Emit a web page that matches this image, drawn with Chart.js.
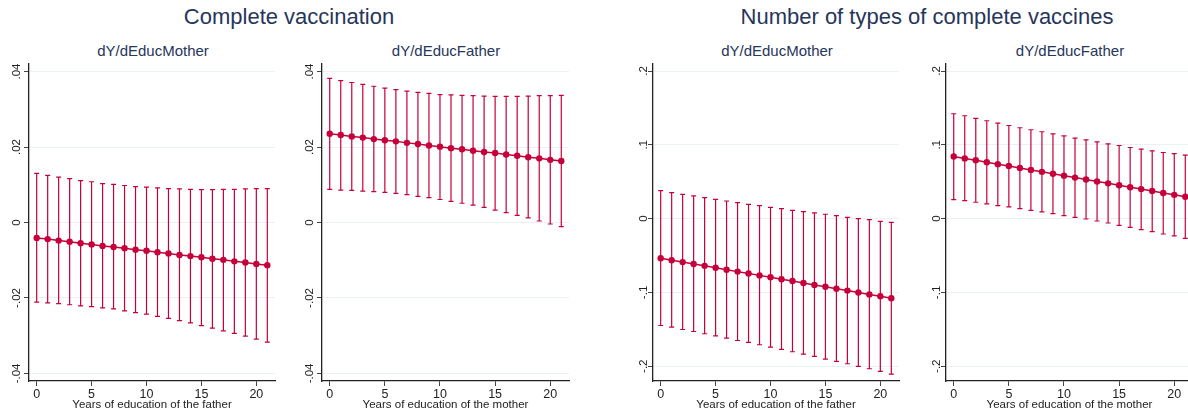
<!DOCTYPE html>
<html>
<head>
<meta charset="utf-8">
<script src="https://cdn.jsdelivr.net/npm/chart.js@4.4.1/dist/chart.umd.min.js"></script>
<style>
  html, body { margin: 0; padding: 0; background: #fff; }
  body { width: 1188px; height: 418px; position: relative; overflow: hidden; font-family: "Liberation Sans", Arial, sans-serif; }
  canvas { position: absolute; top: 0; }
  .title { position: absolute; top: 4px; font-size: 22px; color: #26365a; white-space: nowrap; transform: translateX(-50%); }
  .sub { position: absolute; top: 42px; font-size: 15px; color: #26365a; white-space: nowrap; transform: translateX(-50%); }
</style>
</head>
<body>
<div class="title" style="left:289px">Complete vaccination</div>
<div class="title" style="left:927px">Number of types of complete vaccines</div>
<div class="sub" style="left:153px">dY/dEducMother</div>
<div class="sub" style="left:446px">dY/dEducFather</div>
<div class="sub" style="left:777px">dY/dEducMother</div>
<div class="sub" style="left:1070px">dY/dEducFather</div>
<canvas id="c1" width="279" height="418" style="left:0px"></canvas>
<canvas id="c2" width="280" height="418" style="left:293px"></canvas>
<canvas id="c3" width="279" height="418" style="left:624px"></canvas>
<canvas id="c4" width="280" height="418" style="left:917px"></canvas>
<script>
// years of education (x)
const years = [0, 1, 2, 3, 4, 5, 6, 7, 8, 9, 10, 11, 12, 13, 14, 15, 16, 17, 18, 19, 20, 21];
const xTicks = [0, 5, 10, 15, 20];
const yTicksComplete = [-0.04, -0.02, 0, 0.02, 0.04];
const yTicksTypes = [-0.2, -0.1, 0, 0.1, 0.2];

// Complete vaccination, dY/dEducMother
const cvMotherEst = [-0.0041, -0.0044, -0.0048, -0.0051, -0.0055, -0.0058, -0.0062, -0.0065, -0.0068, -0.0072, -0.0075,
  -0.0079, -0.0082, -0.0086, -0.0089, -0.0092, -0.0096, -0.0099, -0.0103, -0.0106, -0.0110, -0.0113];
const cvMotherHi = [0.0130, 0.0125, 0.0120, 0.0116, 0.0111, 0.0108, 0.0103, 0.0101, 0.0098, 0.0095, 0.0094,
  0.0092, 0.0090, 0.0089, 0.0088, 0.0087, 0.0087, 0.0088, 0.0088, 0.0089, 0.0090, 0.0090];
const cvMotherLo = [-0.0211, -0.0213, -0.0215, -0.0218, -0.0221, -0.0223, -0.0226, -0.0229, -0.0234, -0.0239, -0.0243,
  -0.0249, -0.0254, -0.0260, -0.0266, -0.0273, -0.0280, -0.0287, -0.0294, -0.0301, -0.0309, -0.0317];

// Complete vaccination, dY/dEducFather
const cvFatherEst = [0.0235, 0.0232, 0.0228, 0.0225, 0.0221, 0.0218, 0.0215, 0.0211, 0.0208, 0.0204, 0.0201,
  0.0197, 0.0194, 0.0190, 0.0187, 0.0184, 0.0180, 0.0177, 0.0173, 0.0170, 0.0166, 0.0163];
const cvFatherHi = [0.0382, 0.0376, 0.0371, 0.0366, 0.0361, 0.0356, 0.0352, 0.0348, 0.0345, 0.0342, 0.0339,
  0.0338, 0.0337, 0.0336, 0.0335, 0.0334, 0.0334, 0.0334, 0.0335, 0.0336, 0.0336, 0.0337];
const cvFatherLo = [0.0088, 0.0086, 0.0085, 0.0083, 0.0082, 0.0080, 0.0077, 0.0074, 0.0069, 0.0066, 0.0061,
  0.0056, 0.0051, 0.0046, 0.0040, 0.0033, 0.0026, 0.0019, 0.0012, 0.0004, -0.0004, -0.0011];

// Number of types of complete vaccines, dY/dEducMother
const ntMotherEst = [-0.0537, -0.0563, -0.0589, -0.0615, -0.0640, -0.0666, -0.0692, -0.0718, -0.0743, -0.0769, -0.0795,
  -0.0821, -0.0846, -0.0872, -0.0898, -0.0924, -0.0949, -0.0975, -0.1001, -0.1027, -0.1052, -0.1078];
const ntMotherHi = [0.0379, 0.0352, 0.0329, 0.0307, 0.0284, 0.0262, 0.0239, 0.0216, 0.0194, 0.0176, 0.0153,
  0.0135, 0.0113, 0.0095, 0.0077, 0.0059, 0.0041, 0.0018, 0.0000, -0.0014, -0.0036, -0.0050];
const ntMotherLo = [-0.1448, -0.1470, -0.1502, -0.1529, -0.1560, -0.1588, -0.1619, -0.1651, -0.1678, -0.1709, -0.1741,
  -0.1772, -0.1804, -0.1836, -0.1867, -0.1903, -0.1935, -0.1966, -0.2002, -0.2034, -0.2070, -0.2106];

// Number of types of complete vaccines, dY/dEducFather
const ntFatherEst = [0.0842, 0.0816, 0.0790, 0.0764, 0.0738, 0.0712, 0.0686, 0.0660, 0.0634, 0.0608, 0.0582,
  0.0556, 0.0530, 0.0504, 0.0478, 0.0452, 0.0426, 0.0400, 0.0374, 0.0348, 0.0322, 0.0296];
const ntFatherHi = [0.1421, 0.1394, 0.1358, 0.1326, 0.1294, 0.1262, 0.1231, 0.1204, 0.1177, 0.1149, 0.1122,
  0.1091, 0.1068, 0.1041, 0.1014, 0.0991, 0.0964, 0.0941, 0.0919, 0.0896, 0.0882, 0.0860];
const ntFatherLo = [0.0258, 0.0244, 0.0222, 0.0199, 0.0176, 0.0158, 0.0136, 0.0113, 0.0091, 0.0068, 0.0041,
  0.0018, -0.0005, -0.0032, -0.0059, -0.0091, -0.0118, -0.0149, -0.0176, -0.0208, -0.0235, -0.0267];

const RED = "#c5003a";
const INK = "#222222";

Chart.defaults.font.family = "'Liberation Sans', Arial, sans-serif";

// stata style labels: .02, -.1, 0
function stataNum(v) {
  if (v === 0) return "0";
  return String(v).replace(/^(-?)0\./, "$1.");
}

// capped range lines drawn under the points
const errorBars = {
  id: "errorBars",
  beforeDatasetsDraw(chart) {
    const ds = chart.data.datasets[0];
    const xs = chart.scales.x;
    const ys = chart.scales.y;
    const ctx = chart.ctx;
    ctx.save();
    ctx.strokeStyle = RED;
    ctx.lineWidth = 1.2;
    ds.data.forEach((pt, i) => {
      const px = xs.getPixelForValue(pt.x);
      const lo = ys.getPixelForValue(ds.lo[i]);
      const hi = ys.getPixelForValue(ds.hi[i]);
      ctx.beginPath();
      ctx.moveTo(px, lo);
      ctx.lineTo(px, hi);
      ctx.moveTo(px - 2.5, lo);
      ctx.lineTo(px + 2.5, lo);
      ctx.moveTo(px - 2.5, hi);
      ctx.lineTo(px + 2.5, hi);
      ctx.stroke();
    });
    ctx.restore();
  }
};

function buildChart(id, est, lo, hi, yTicks, yMin, yMax, xTitle) {
  let context = document.getElementById(id).getContext("2d");
  return new Chart(context, {
    type: "line",
    data: {
      datasets: [
        {
          data: years.map((x, i) => ({ x: x, y: est[i] })),
          lo: lo,
          hi: hi,
          borderColor: RED,
          borderWidth: 1.5,
          backgroundColor: RED,
          pointRadius: 3.2,
          pointBorderWidth: 0,
          pointBackgroundColor: RED,
          fill: false,
          tension: 0
        }
      ]
    },
    options: {
      responsive: false,
      animation: false,
      devicePixelRatio: 1,
      layout: { padding: { top: 64, right: 2, bottom: 0, left: 0 } },
      plugins: { legend: { display: false }, tooltip: { enabled: false } },
      scales: {
        x: {
          type: "linear",
          min: -0.7,
          max: 21.7,
          afterBuildTicks: s => { s.ticks = xTicks.map(v => ({ value: v })); },
          afterFit: s => { s.height = 37; },
          ticks: { color: INK, font: { size: 12.5 }, padding: 1, maxRotation: 0 },
          grid: { drawOnChartArea: false, tickLength: 5, tickColor: "#444", tickWidth: 1 },
          border: { color: INK, width: 1.3 },
          title: { display: true, text: xTitle, color: INK, font: { size: 11.5 }, padding: { top: 0, bottom: 6 } }
        },
        y: {
          type: "linear",
          min: yMin,
          max: yMax,
          afterBuildTicks: s => { s.ticks = yTicks.map(v => ({ value: v })); },
          afterFit: s => { s.width = 29; },
          ticks: {
            color: INK,
            font: { size: 11.5 },
            minRotation: 90,
            maxRotation: 90,
            crossAlign: "center",
            padding: -3,
            callback: v => stataNum(v)
          },
          grid: { color: "#eaf1f2", lineWidth: 1, tickLength: 5, tickColor: "#444" },
          border: { color: INK, width: 1.3 }
        }
      }
    },
    plugins: [errorBars]
  });
}

buildChart("c1", cvMotherEst, cvMotherLo, cvMotherHi, yTicksComplete, -0.042, 0.042, "Years of education of the father");
buildChart("c2", cvFatherEst, cvFatherLo, cvFatherHi, yTicksComplete, -0.042, 0.042, "Years of education of the mother");
buildChart("c3", ntMotherEst, ntMotherLo, ntMotherHi, yTicksTypes, -0.22, 0.2095, "Years of education of the father");
buildChart("c4", ntFatherEst, ntFatherLo, ntFatherHi, yTicksTypes, -0.22, 0.2095, "Years of education of the mother");
</script>
</body>
</html>
